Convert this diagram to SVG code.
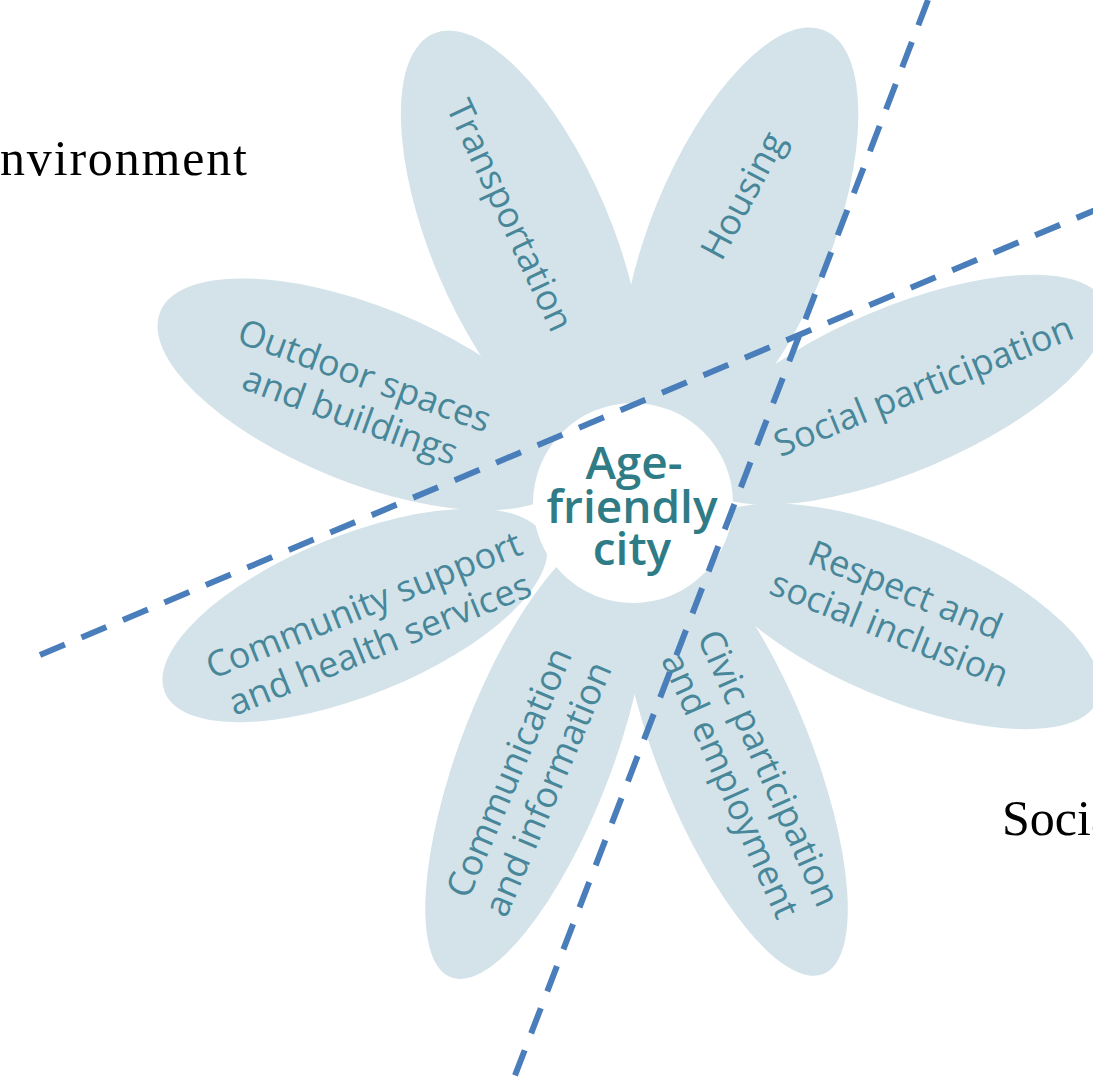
<svg xmlns="http://www.w3.org/2000/svg" width="1093" height="1081" viewBox="0 0 1093 1081">
<style>
.petal{fill:#d3e3e9}
.lbl{font-family:"Open Sans","Noto Sans",sans-serif;font-size:36px;fill:#48879a;text-anchor:middle;dominant-baseline:central}
.core{font-family:"Open Sans","Noto Sans",sans-serif;font-size:46px;font-weight:600;fill:#2f7c86;text-anchor:middle}
.side{font-family:"Liberation Serif",serif;font-size:50px;fill:#000}
.dash{fill:none;stroke:#4a7ebb;stroke-width:6;stroke-dasharray:27 18}
</style>
<rect width="1093" height="1081" fill="#fff"/>
<text class="side" x="0" y="175" textLength="247" lengthAdjust="spacing">nvironment</text>
<text class="side" x="1002" y="835">Socia</text>
<g id="flower">
<g id="petal-transportation">
<ellipse class="petal" cx="633" cy="218" rx="90" ry="225" transform="rotate(-23 633 503)"/>
<text class="lbl" transform="translate(511 215) rotate(65)">Transportation</text>
</g>
<g id="petal-housing">
<ellipse class="petal" cx="633" cy="218" rx="90" ry="225" transform="rotate(22 633 503)"/>
<text class="lbl" transform="translate(742 195) rotate(-62)">Housing</text>
</g>
<g id="petal-social-participation">
<ellipse class="petal" cx="633" cy="213" rx="82" ry="222" transform="rotate(67 633 503)"/>
<text class="lbl" transform="translate(923 385) rotate(-22)">Social participation</text>
</g>
<g id="petal-respect">
<ellipse class="petal" cx="633" cy="213" rx="82" ry="215" transform="rotate(113 633 503)"/>
<text class="lbl" transform="translate(898 608) rotate(22)"><tspan x="0" y="-21">Respect and</tspan><tspan x="0" y="21">social inclusion</tspan></text>
</g>
<g id="petal-civic">
<ellipse class="petal" cx="633" cy="233" rx="76" ry="238" transform="rotate(158 633 503)"/>
<text class="lbl" transform="translate(751 776) rotate(66)"><tspan x="0" y="-21">Civic participation</tspan><tspan x="0" y="21">and employment</tspan></text>
</g>
<g id="petal-communication">
<ellipse class="petal" cx="633" cy="233" rx="76" ry="238" transform="rotate(201 633 503)"/>
<text class="lbl" transform="translate(527 780) rotate(-67)"><tspan x="0" y="-21">Communication</tspan><tspan x="0" y="21">and information</tspan></text>
</g>
<g id="petal-community">
<ellipse class="petal" cx="633" cy="203" rx="80" ry="205" transform="rotate(248 633 503)"/>
<text class="lbl" transform="translate(371 623) rotate(-22)"><tspan x="0" y="-21">Community support</tspan><tspan x="0" y="21">and health services</tspan></text>
</g>
<g id="petal-outdoor">
<ellipse class="petal" cx="633" cy="213" rx="88" ry="220" transform="rotate(292 633 503)"/>
<text class="lbl" transform="translate(358 394) rotate(20)"><tspan x="0" y="-21">Outdoor spaces</tspan><tspan x="0" y="21">and buildings</tspan></text>
</g>
<g id="center">
<circle cx="633" cy="503" r="100" fill="#fff"/>
<text class="core"><tspan x="634" y="479">Age-</tspan><tspan x="632" y="523">friendly</tspan><tspan x="632" y="565">city</tspan></text>
</g>
</g>
<g id="connectors">
<line class="dash" x1="40" y1="655" x2="1100" y2="208"/>
<line class="dash" x1="928" y1="0" x2="514" y2="1078"/>
</g>
</svg>
